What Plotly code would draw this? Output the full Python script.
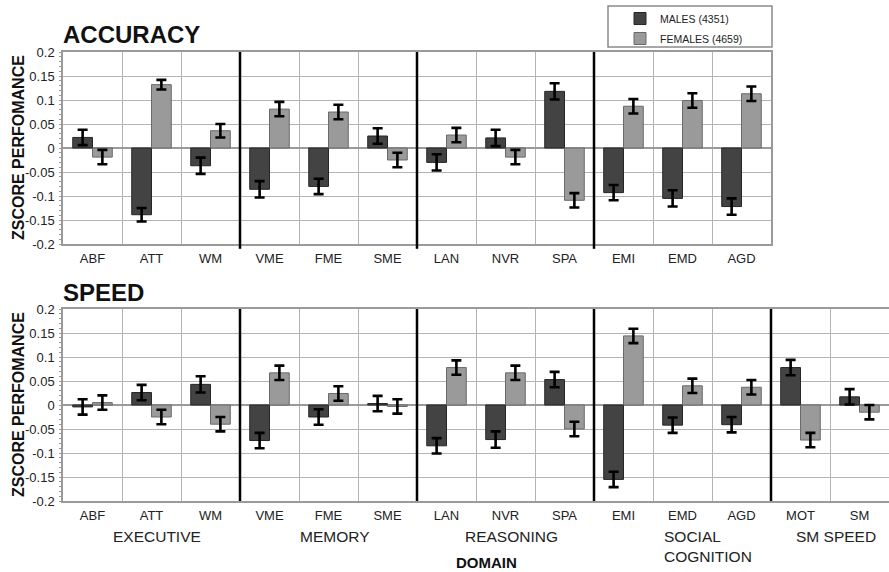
import plotly.graph_objects as go

# Test abbreviations for each panel
acc_tests = ["ABF", "ATT", "WM", "VME", "FME", "SME", "LAN", "NVR", "SPA", "EMI", "EMD", "AGD"]
speed_tests = ["ABF", "ATT", "WM", "VME", "FME", "SME", "LAN", "NVR", "SPA", "EMI", "EMD", "AGD", "MOT", "SM"]

# Accuracy z-scores (mean, standard error)
acc_males = [0.022, -0.139, -0.037, -0.086, -0.080, 0.025, -0.030, 0.021, 0.118, -0.093, -0.105, -0.122]
acc_females = [-0.019, 0.132, 0.036, 0.081, 0.075, -0.025, 0.027, -0.019, -0.109, 0.087, 0.099, 0.113]
acc_males_se = [0.016, 0.014, 0.017, 0.017, 0.016, 0.016, 0.017, 0.017, 0.017, 0.016, 0.017, 0.017]
acc_females_se = [0.015, 0.010, 0.014, 0.015, 0.015, 0.015, 0.015, 0.015, 0.015, 0.015, 0.015, 0.015]

# Speed z-scores (mean, standard error)
speed_males = [-0.004, 0.026, 0.043, -0.074, -0.025, 0.003, -0.085, -0.072, 0.053, -0.155, -0.042, -0.041, 0.078, 0.017]
speed_females = [0.005, -0.025, -0.040, 0.067, 0.024, -0.003, 0.078, 0.067, -0.050, 0.144, 0.040, 0.037, -0.073, -0.015]
speed_males_se = [0.016, 0.016, 0.017, 0.016, 0.016, 0.016, 0.016, 0.017, 0.016, 0.016, 0.016, 0.016, 0.016, 0.016]
speed_females_se = [0.015, 0.015, 0.015, 0.015, 0.015, 0.015, 0.015, 0.015, 0.015, 0.015, 0.015, 0.015, 0.015, 0.015]

# Domains: label and index range of the tests they hold
domains = [("EXECUTIVE", 0, 2), ("MEMORY", 3, 5), ("REASONING", 6, 8),
           ("SOCIAL<br>COGNITION", 9, 11), ("SM SPEED", 12, 13)]

y_tick_vals = [0.2, 0.15, 0.1, 0.05, 0, -0.05, -0.1, -0.15, -0.2]
y_tick_text = ["0.2", "0.15", "0.1", "0.05", "0", "-0.05", "-0.1", "-0.15", "-0.2"]

male_label = "MALES (4351)"
female_label = "FEMALES (4659)"

W, H = 889, 572
FONT = "Liberation Sans, Arial, sans-serif"
MALE_COLOR = "#434343"
FEMALE_COLOR = "#9a9a9a"
GRID = "#b4b4b4"


def px_x(v):
    return v / W


def px_y(v):
    return 1 - v / H


fig = go.Figure()


def add_pair(xs, males, females, m_se, f_se, xa, ya, show_legend):
    err_style = dict(type="data", color="black", thickness=2.6, width=5)
    fig.add_trace(go.Bar(
        x=xs, y=males, name=male_label, xaxis=xa, yaxis=ya,
        marker=dict(color=MALE_COLOR, line=dict(color="#262626", width=1)),
        error_y=dict(array=m_se, **err_style),
        showlegend=show_legend, legendgroup="m", offsetgroup="m",
    ))
    fig.add_trace(go.Bar(
        x=xs, y=females, name=female_label, xaxis=xa, yaxis=ya,
        marker=dict(color=FEMALE_COLOR, line=dict(color="#6a6a6a", width=1)),
        error_y=dict(array=f_se, **err_style),
        showlegend=show_legend, legendgroup="f", offsetgroup="f",
    ))


add_pair(acc_tests, acc_males, acc_females, acc_males_se, acc_females_se, "x", "y", True)
add_pair(speed_tests, speed_males, speed_females, speed_males_se, speed_females_se, "x2", "y2", False)

xaxis_common = dict(
    type="category", tickson="boundaries", showgrid=True, gridcolor=GRID, gridwidth=1.3,
    showline=True, linecolor="#9a9a9a", linewidth=1.5, mirror=True,
    ticks="", tickfont=dict(family=FONT, size=13, color="#222"),
    ticklabelstandoff=2, zeroline=False, fixedrange=True,
)
yaxis_common = dict(
    range=[-0.2, 0.2], tickvals=y_tick_vals, ticktext=y_tick_text,
    showgrid=True, gridcolor=GRID, gridwidth=1.3,
    zeroline=True, zerolinecolor="#9a9a9a", zerolinewidth=1.5,
    showline=True, linecolor="#9a9a9a", linewidth=1.5, mirror=True,
    ticks="", ticklabelstandoff=4,
    tickfont=dict(family=FONT, size=13, color="#222"),
    minor=dict(dtick=0.01, ticks="outside", ticklen=2, tickcolor="#9a9a9a", showgrid=False),
    fixedrange=True,
)

top_y = (52, 244)
bot_y = (309, 501)
left = 63
cat_w = (W - left) / len(speed_tests)

fig.update_layout(
    width=W, height=H, margin=dict(l=0, r=0, t=0, b=0, autoexpand=False),
    paper_bgcolor="white", plot_bgcolor="white",
    barmode="group", bargap=0.33, bargroupgap=0,
    font=dict(family=FONT, color="#222"),
    xaxis=dict(domain=[px_x(left), px_x(left + cat_w * len(acc_tests))], anchor="y", **xaxis_common),
    yaxis=dict(domain=[px_y(top_y[1]), px_y(top_y[0])], anchor="x", **yaxis_common),
    xaxis2=dict(domain=[px_x(left), 1.0], anchor="y2", **xaxis_common),
    yaxis2=dict(domain=[px_y(bot_y[1]), px_y(bot_y[0])], anchor="x2", **yaxis_common),
    legend=dict(
        x=px_x(620), y=px_y(4), xanchor="left", yanchor="top",
        font=dict(family=FONT, size=10.5, color="#222"),
        bgcolor="rgba(0,0,0,0)", borderwidth=0, itemwidth=30,
        tracegroupgap=1, itemclick=False, itemdoubleclick=False,
    ),
)

shapes = []
# Legend frame
shapes.append(dict(type="rect", xref="paper", yref="paper",
                   x0=px_x(608), x1=px_x(772), y0=px_y(47), y1=px_y(6),
                   line=dict(color="#8a8a8a", width=1.5), fillcolor="rgba(0,0,0,0)", layer="below"))
# Domain separators
for xr, yr, groups, ext in (("x", "y domain", domains[:4], -0.025), ("x2", "y2 domain", domains, 0)):
    for _, start, end in groups[:-1]:
        shapes.append(dict(type="line", xref=xr, yref=yr, x0=end + 0.5, x1=end + 0.5,
                           y0=ext, y1=1, line=dict(color="black", width=2.5)))
fig.update_layout(shapes=shapes)

ann = []
ann.append(dict(text="<b>ACCURACY</b>", xref="paper", yref="paper", x=px_x(61), y=px_y(35),
                xanchor="left", yanchor="middle", showarrow=False,
                font=dict(family=FONT, size=24, color="#111")))
ann.append(dict(text="<b>SPEED</b>", xref="paper", yref="paper", x=px_x(61), y=px_y(293),
                xanchor="left", yanchor="middle", showarrow=False,
                font=dict(family=FONT, size=24, color="#111")))
for (y0, y1) in (top_y, bot_y):
    ann.append(dict(text="<b>ZSCORE PERFOMANCE</b>", xref="paper", yref="paper",
                    x=px_x(18), y=px_y((y0 + y1) / 2), textangle=-90,
                    xanchor="center", yanchor="middle", showarrow=False,
                    font=dict(family=FONT, size=16, color="#111")))
for name, start, end in domains:
    centre = (start + end) / 2 + 0.1
    if "<br>" in name:
        ann.append(dict(text=name, xref="x2", yref="paper", x=centre - 0.45, y=px_y(526),
                        xanchor="left", yanchor="top", align="left", showarrow=False,
                        font=dict(family=FONT, size=15.5, color="#222")))
    else:
        ann.append(dict(text=name, xref="x2", yref="paper", x=centre, y=px_y(536),
                        xanchor="center", yanchor="middle", showarrow=False,
                        font=dict(family=FONT, size=15.5, color="#222")))
ann.append(dict(text="<b>DOMAIN</b>", xref="paper", yref="paper", x=px_x(486), y=px_y(562),
                xanchor="center", yanchor="middle", showarrow=False,
                font=dict(family=FONT, size=15, color="#111")))
fig.update_layout(annotations=ann)

fig.write_html("out.html")
